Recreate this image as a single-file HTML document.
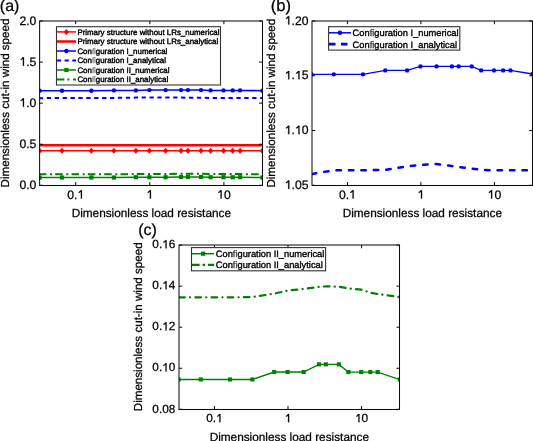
<!DOCTYPE html>
<html><head><meta charset="utf-8"><title>Dimensionless cut-in wind speed</title>
<style>html,body{margin:0;padding:0;background:#fff;width:533px;height:441px;overflow:hidden}svg{display:block}</style>
</head><body>
<svg width="533" height="441" viewBox="0 0 533 441" style="will-change:transform">
<style>text{font-family:"Liberation Sans", sans-serif;fill:#000;stroke:#000;stroke-width:0.25px;text-rendering:geometricPrecision}.tk{font-size:12.2px}.lab{font-size:11.8px}.ylab{font-size:11.6px}.pl{font-size:16px}.lg1{font-size:7.9px;stroke-width:0.4px}.lg2{font-size:9.3px;stroke-width:0.35px}</style>

<defs>
<clipPath id="ca"><rect x="39.60" y="21.00" width="222.80" height="164.30"/></clipPath>
<clipPath id="cb"><rect x="312.00" y="21.00" width="220.40" height="164.30"/></clipPath>
<clipPath id="cc"><rect x="179.00" y="245.10" width="220.70" height="164.20"/></clipPath>
<filter id="soft" x="0" y="0" width="1" height="1"><feGaussianBlur stdDeviation="0.3"/></filter>
</defs>
<g filter="url(#soft)">
<rect width="533" height="441" fill="#fff"/>
<g clip-path="url(#ca)">
<polyline points="39.61,145.29 61.99,145.29 91.41,145.29 113.90,145.29 135.90,145.29 149.40,145.29 165.60,145.29 181.00,145.29 187.89,145.29 201.00,145.29 210.60,145.29 223.50,145.29 232.70,145.29 240.10,145.29 262.36,145.29" fill="none" stroke="#f00" stroke-width="2.5"/>
<polyline points="39.61,150.80 61.99,150.80 91.41,150.80 113.90,150.80 135.90,150.80 149.40,150.80 165.60,150.80 181.00,150.80 187.89,150.80 201.00,150.80 210.60,150.80 223.50,150.80 232.70,150.80 240.10,150.80 262.36,150.80" fill="none" stroke="#f00" stroke-width="1.4"/>
<path d="M39.61 147.80L42.41 150.80L39.61 153.80L36.81 150.80Z" fill="#f00"/>
<path d="M61.99 147.80L64.79 150.80L61.99 153.80L59.19 150.80Z" fill="#f00"/>
<path d="M91.41 147.80L94.21 150.80L91.41 153.80L88.61 150.80Z" fill="#f00"/>
<path d="M113.90 147.80L116.70 150.80L113.90 153.80L111.10 150.80Z" fill="#f00"/>
<path d="M135.90 147.80L138.70 150.80L135.90 153.80L133.10 150.80Z" fill="#f00"/>
<path d="M149.40 147.80L152.20 150.80L149.40 153.80L146.60 150.80Z" fill="#f00"/>
<path d="M165.60 147.80L168.40 150.80L165.60 153.80L162.80 150.80Z" fill="#f00"/>
<path d="M181.00 147.80L183.80 150.80L181.00 153.80L178.20 150.80Z" fill="#f00"/>
<path d="M187.89 147.80L190.69 150.80L187.89 153.80L185.09 150.80Z" fill="#f00"/>
<path d="M201.00 147.80L203.80 150.80L201.00 153.80L198.20 150.80Z" fill="#f00"/>
<path d="M210.60 147.80L213.40 150.80L210.60 153.80L207.80 150.80Z" fill="#f00"/>
<path d="M223.50 147.80L226.30 150.80L223.50 153.80L220.70 150.80Z" fill="#f00"/>
<path d="M232.70 147.80L235.50 150.80L232.70 153.80L229.90 150.80Z" fill="#f00"/>
<path d="M240.10 147.80L242.90 150.80L240.10 153.80L237.30 150.80Z" fill="#f00"/>
<path d="M262.36 147.80L265.16 150.80L262.36 153.80L259.56 150.80Z" fill="#f00"/>
<polyline points="39.61,90.72 61.99,90.72 91.41,90.72 113.90,90.42 135.90,90.42 149.40,90.12 165.60,90.12 181.00,90.12 187.89,90.12 201.00,90.12 210.60,90.42 223.50,90.42 232.70,90.42 240.10,90.42 262.36,90.69" fill="none" stroke="#00f" stroke-width="1.5"/>
<circle cx="39.61" cy="90.72" r="2.20" fill="#00f"/>
<circle cx="61.99" cy="90.72" r="2.20" fill="#00f"/>
<circle cx="91.41" cy="90.72" r="2.20" fill="#00f"/>
<circle cx="113.90" cy="90.42" r="2.20" fill="#00f"/>
<circle cx="135.90" cy="90.42" r="2.20" fill="#00f"/>
<circle cx="149.40" cy="90.12" r="2.20" fill="#00f"/>
<circle cx="165.60" cy="90.12" r="2.20" fill="#00f"/>
<circle cx="181.00" cy="90.12" r="2.20" fill="#00f"/>
<circle cx="187.89" cy="90.12" r="2.20" fill="#00f"/>
<circle cx="201.00" cy="90.12" r="2.20" fill="#00f"/>
<circle cx="210.60" cy="90.42" r="2.20" fill="#00f"/>
<circle cx="223.50" cy="90.42" r="2.20" fill="#00f"/>
<circle cx="232.70" cy="90.42" r="2.20" fill="#00f"/>
<circle cx="240.10" cy="90.42" r="2.20" fill="#00f"/>
<circle cx="262.36" cy="90.69" r="2.20" fill="#00f"/>
<polyline points="39.61,98.19 61.99,97.92 91.41,97.92 113.90,97.89 135.90,97.62 149.40,97.52 165.60,97.45 181.00,97.60 187.89,97.67 201.00,97.80 210.60,97.89 223.50,97.92 232.70,97.92 240.10,97.92 262.36,97.92" fill="none" stroke="#00f" stroke-width="2" stroke-dasharray="4.3 3.6" stroke-dashoffset="0.7"/>
<polyline points="39.61,177.53 61.99,177.53 91.41,177.53 113.90,177.53 135.90,177.24 149.40,177.24 165.60,177.24 181.00,176.93 187.89,176.93 201.00,176.93 210.60,177.24 223.50,177.24 232.70,177.24 240.10,177.24 262.36,177.54" fill="none" stroke="#008000" stroke-width="1.5"/>
<rect x="37.51" y="175.43" width="4.20" height="4.20" fill="#008000"/>
<rect x="59.89" y="175.43" width="4.20" height="4.20" fill="#008000"/>
<rect x="89.31" y="175.43" width="4.20" height="4.20" fill="#008000"/>
<rect x="111.80" y="175.43" width="4.20" height="4.20" fill="#008000"/>
<rect x="133.80" y="175.14" width="4.20" height="4.20" fill="#008000"/>
<rect x="147.30" y="175.14" width="4.20" height="4.20" fill="#008000"/>
<rect x="163.50" y="175.14" width="4.20" height="4.20" fill="#008000"/>
<rect x="178.90" y="174.83" width="4.20" height="4.20" fill="#008000"/>
<rect x="185.79" y="174.83" width="4.20" height="4.20" fill="#008000"/>
<rect x="198.90" y="174.83" width="4.20" height="4.20" fill="#008000"/>
<rect x="208.50" y="175.14" width="4.20" height="4.20" fill="#008000"/>
<rect x="221.40" y="175.14" width="4.20" height="4.20" fill="#008000"/>
<rect x="230.60" y="175.14" width="4.20" height="4.20" fill="#008000"/>
<rect x="238.00" y="175.14" width="4.20" height="4.20" fill="#008000"/>
<rect x="260.26" y="175.44" width="4.20" height="4.20" fill="#008000"/>
<polyline points="39.61,174.25 61.99,174.25 91.41,174.25 113.90,174.24 135.90,174.10 149.40,173.98 165.60,173.91 181.00,173.83 187.89,173.81 201.00,173.82 210.60,173.89 223.50,173.94 232.70,174.06 240.10,174.12 262.36,174.24" fill="none" stroke="#008000" stroke-width="2" stroke-dasharray="7.5 3.63 2 3.2" stroke-dashoffset="0.73"/>
</g>
<line x1="75.70" y1="185.30" x2="75.70" y2="182.10" stroke="#000" stroke-width="1.00"/>
<line x1="75.70" y1="21.00" x2="75.70" y2="24.20" stroke="#000" stroke-width="1.00"/>
<text x="67.22" y="198.60" class="tk" style="font-size:12.20px">0</text>
<text x="74.00" y="198.60" class="tk" style="font-size:12.20px">.</text>
<path d="M81.94 198.60L80.87 198.60L80.87 191.77Q80.48 192.14 79.90 192.46Q79.36 192.73 78.71 192.88L78.71 191.93Q79.42 191.57 79.96 191.06Q80.48 190.53 80.65 190.21L81.94 190.21Z" fill="#000" stroke="#000" stroke-width="0.25"/>
<line x1="149.80" y1="185.30" x2="149.80" y2="182.10" stroke="#000" stroke-width="1.00"/>
<line x1="149.80" y1="21.00" x2="149.80" y2="24.20" stroke="#000" stroke-width="1.00"/>
<path d="M150.95 198.60L149.88 198.60L149.88 191.77Q149.49 192.14 148.91 192.46Q148.37 192.73 147.72 192.88L147.72 191.93Q148.43 191.57 148.97 191.06Q149.49 190.53 149.67 190.21L150.95 190.21Z" fill="#000" stroke="#000" stroke-width="0.25"/>
<line x1="223.90" y1="185.30" x2="223.90" y2="182.10" stroke="#000" stroke-width="1.00"/>
<line x1="223.90" y1="21.00" x2="223.90" y2="24.20" stroke="#000" stroke-width="1.00"/>
<path d="M221.66 198.60L220.59 198.60L220.59 191.77Q220.20 192.14 219.62 192.46Q219.08 192.73 218.43 192.88L218.43 191.93Q219.14 191.57 219.68 191.06Q220.20 190.53 220.38 190.21L221.66 190.21Z" fill="#000" stroke="#000" stroke-width="0.25"/>
<text x="223.90" y="198.60" class="tk" style="font-size:12.20px">0</text>
<line x1="39.60" y1="185.30" x2="42.80" y2="185.30" stroke="#000" stroke-width="1.00"/>
<line x1="262.40" y1="185.30" x2="259.20" y2="185.30" stroke="#000" stroke-width="1.00"/>
<text x="19.44" y="188.90" class="tk" style="font-size:12.20px">0</text>
<text x="26.23" y="188.90" class="tk" style="font-size:12.20px">.</text>
<text x="29.62" y="188.90" class="tk" style="font-size:12.20px">0</text>
<line x1="39.60" y1="144.23" x2="42.80" y2="144.23" stroke="#000" stroke-width="1.00"/>
<line x1="262.40" y1="144.23" x2="259.20" y2="144.23" stroke="#000" stroke-width="1.00"/>
<text x="19.44" y="147.83" class="tk" style="font-size:12.20px">0</text>
<text x="26.23" y="147.83" class="tk" style="font-size:12.20px">.</text>
<text x="29.62" y="147.83" class="tk" style="font-size:12.20px">5</text>
<line x1="39.60" y1="103.15" x2="42.80" y2="103.15" stroke="#000" stroke-width="1.00"/>
<line x1="262.40" y1="103.15" x2="259.20" y2="103.15" stroke="#000" stroke-width="1.00"/>
<path d="M23.99 106.75L22.91 106.75L22.91 99.92Q22.53 100.29 21.94 100.61Q21.41 100.88 20.75 101.03L20.75 100.08Q21.47 99.72 22.00 99.21Q22.52 98.68 22.70 98.36L23.99 98.36Z" fill="#000" stroke="#000" stroke-width="0.25"/>
<text x="26.23" y="106.75" class="tk" style="font-size:12.20px">.</text>
<text x="29.62" y="106.75" class="tk" style="font-size:12.20px">0</text>
<line x1="39.60" y1="62.08" x2="42.80" y2="62.08" stroke="#000" stroke-width="1.00"/>
<line x1="262.40" y1="62.08" x2="259.20" y2="62.08" stroke="#000" stroke-width="1.00"/>
<path d="M23.99 65.67L22.91 65.67L22.91 58.84Q22.53 59.21 21.94 59.54Q21.41 59.81 20.75 59.96L20.75 59.00Q21.47 58.65 22.00 58.13Q22.52 57.60 22.70 57.28L23.99 57.28Z" fill="#000" stroke="#000" stroke-width="0.25"/>
<text x="26.23" y="65.67" class="tk" style="font-size:12.20px">.</text>
<text x="29.62" y="65.67" class="tk" style="font-size:12.20px">5</text>
<line x1="39.60" y1="21.00" x2="42.80" y2="21.00" stroke="#000" stroke-width="1.00"/>
<line x1="262.40" y1="21.00" x2="259.20" y2="21.00" stroke="#000" stroke-width="1.00"/>
<text x="19.44" y="24.60" class="tk" style="font-size:12.20px">2</text>
<text x="26.23" y="24.60" class="tk" style="font-size:12.20px">.</text>
<text x="29.62" y="24.60" class="tk" style="font-size:12.20px">0</text>
<rect x="39.60" y="21.00" width="222.90" height="164.50" fill="none" stroke="#111" stroke-width="1.05"/>
<rect x="56.5" y="26.7" width="164.0" height="58.3" fill="#fff" stroke="#333" stroke-width="1.1"/>
<line x1="56.9" y1="31.9" x2="76.0" y2="31.9" stroke="#f00" stroke-width="1.5"/>
<path d="M66.40 28.90L69.10 31.90L66.40 34.90L63.70 31.90Z" fill="#f00"/>
<line x1="56.9" y1="41.5" x2="76.0" y2="41.5" stroke="#f00" stroke-width="2.5"/>
<line x1="56.9" y1="51.0" x2="76.0" y2="51.0" stroke="#00f" stroke-width="1.5"/>
<circle cx="66.40" cy="51.00" r="2.2" fill="#00f"/>
<line x1="56.9" y1="60.5" x2="76.0" y2="60.5" stroke="#00f" stroke-width="2" stroke-dasharray="4.2 3.5"/>
<line x1="56.9" y1="70.0" x2="76.0" y2="70.0" stroke="#008000" stroke-width="1.5"/>
<rect x="64.30" y="67.90" width="4.2" height="4.2" fill="#008000"/>
<line x1="56.9" y1="79.6" x2="76.0" y2="79.6" stroke="#008000" stroke-width="2" stroke-dasharray="7.5 3 2 3.7"/>
<text x="77.4" y="34.65" class="lg1">Primary structure without LRs_numerical</text>
<text x="77.4" y="44.25" class="lg1">Primary structure without LRs_analytical</text>
<text x="77.4" y="53.75" class="lg1">Con<tspan fill="#888" stroke="#888">fi</tspan>guration I_numerical</text>
<text x="77.4" y="63.25" class="lg1">Con<tspan fill="#888" stroke="#888">fi</tspan>guration I_analytical</text>
<text x="77.4" y="72.75" class="lg1">Con<tspan fill="#888" stroke="#888">fi</tspan>guration II_numerical</text>
<text x="77.4" y="82.35" class="lg1">Con<tspan fill="#888" stroke="#888">fi</tspan>guration II_analytical</text>
<text x="-0.2" y="10.8" class="pl">(a)</text>
<text x="151.3" y="216.8" text-anchor="middle" class="lab">Dimensionless load resistance</text>
<text transform="translate(9.1,103) rotate(-90)" text-anchor="middle" class="ylab">Dimensionless cut-in wind speed</text>
<g clip-path="url(#cb)">
<polyline points="311.61,74.35 333.80,74.35 362.98,74.35 385.29,70.39 407.11,70.39 420.50,66.38 436.57,66.38 451.84,66.38 458.68,66.38 471.69,66.38 481.21,70.39 494.00,70.39 503.13,70.39 510.47,70.39 532.55,74.00" fill="none" stroke="#00f" stroke-width="1.35"/>
<circle cx="311.61" cy="74.35" r="2.20" fill="#00f"/>
<circle cx="333.80" cy="74.35" r="2.20" fill="#00f"/>
<circle cx="362.98" cy="74.35" r="2.20" fill="#00f"/>
<circle cx="385.29" cy="70.39" r="2.20" fill="#00f"/>
<circle cx="407.11" cy="70.39" r="2.20" fill="#00f"/>
<circle cx="420.50" cy="66.38" r="2.20" fill="#00f"/>
<circle cx="436.57" cy="66.38" r="2.20" fill="#00f"/>
<circle cx="451.84" cy="66.38" r="2.20" fill="#00f"/>
<circle cx="458.68" cy="66.38" r="2.20" fill="#00f"/>
<circle cx="471.69" cy="66.38" r="2.20" fill="#00f"/>
<circle cx="481.21" cy="70.39" r="2.20" fill="#00f"/>
<circle cx="494.00" cy="70.39" r="2.20" fill="#00f"/>
<circle cx="503.13" cy="70.39" r="2.20" fill="#00f"/>
<circle cx="510.47" cy="70.39" r="2.20" fill="#00f"/>
<circle cx="532.55" cy="74.00" r="2.20" fill="#00f"/>
<polyline points="311.61,173.98 333.80,170.27 362.98,170.27 385.29,169.87 407.11,166.37 420.50,164.96 436.57,164.06 451.84,166.06 458.68,166.97 471.69,168.67 481.21,169.87 494.00,170.27 503.13,170.27 510.47,170.27 532.55,170.27" fill="none" stroke="#00f" stroke-width="2.5" stroke-dasharray="4.45 8.0" stroke-dashoffset="-0.25" stroke-linecap="round"/>
</g>
<line x1="347.40" y1="185.30" x2="347.40" y2="182.10" stroke="#000" stroke-width="1.00"/>
<line x1="347.40" y1="21.00" x2="347.40" y2="24.20" stroke="#000" stroke-width="1.00"/>
<text x="338.92" y="198.60" class="tk" style="font-size:12.20px">0</text>
<text x="345.70" y="198.60" class="tk" style="font-size:12.20px">.</text>
<path d="M353.64 198.60L352.57 198.60L352.57 191.77Q352.18 192.14 351.60 192.46Q351.06 192.73 350.41 192.88L350.41 191.93Q351.12 191.57 351.66 191.06Q352.18 190.53 352.35 190.21L353.64 190.21Z" fill="#000" stroke="#000" stroke-width="0.25"/>
<line x1="420.90" y1="185.30" x2="420.90" y2="182.10" stroke="#000" stroke-width="1.00"/>
<line x1="420.90" y1="21.00" x2="420.90" y2="24.20" stroke="#000" stroke-width="1.00"/>
<path d="M422.05 198.60L420.98 198.60L420.98 191.77Q420.59 192.14 420.01 192.46Q419.47 192.73 418.82 192.88L418.82 191.93Q419.53 191.57 420.07 191.06Q420.59 190.53 420.77 190.21L422.05 190.21Z" fill="#000" stroke="#000" stroke-width="0.25"/>
<line x1="494.40" y1="185.30" x2="494.40" y2="182.10" stroke="#000" stroke-width="1.00"/>
<line x1="494.40" y1="21.00" x2="494.40" y2="24.20" stroke="#000" stroke-width="1.00"/>
<path d="M492.16 198.60L491.09 198.60L491.09 191.77Q490.70 192.14 490.12 192.46Q489.58 192.73 488.93 192.88L488.93 191.93Q489.64 191.57 490.18 191.06Q490.70 190.53 490.88 190.21L492.16 190.21Z" fill="#000" stroke="#000" stroke-width="0.25"/>
<text x="494.40" y="198.60" class="tk" style="font-size:12.20px">0</text>
<line x1="312.00" y1="185.30" x2="315.20" y2="185.30" stroke="#000" stroke-width="1.00"/>
<line x1="532.40" y1="185.30" x2="529.20" y2="185.30" stroke="#000" stroke-width="1.00"/>
<path d="M289.30 188.90L288.23 188.90L288.23 182.07Q287.84 182.44 287.26 182.76Q286.72 183.03 286.07 183.18L286.07 182.23Q286.78 181.87 287.32 181.36Q287.84 180.83 288.02 180.51L289.30 180.51Z" fill="#000" stroke="#000" stroke-width="0.25"/>
<text x="291.54" y="188.90" class="tk" style="font-size:12.20px">.</text>
<text x="294.93" y="188.90" class="tk" style="font-size:12.20px">0</text>
<text x="301.72" y="188.90" class="tk" style="font-size:12.20px">5</text>
<line x1="312.00" y1="130.53" x2="315.20" y2="130.53" stroke="#000" stroke-width="1.00"/>
<line x1="532.40" y1="130.53" x2="529.20" y2="130.53" stroke="#000" stroke-width="1.00"/>
<path d="M289.30 134.13L288.23 134.13L288.23 127.30Q287.84 127.67 287.26 128.00Q286.72 128.27 286.07 128.41L286.07 127.46Q286.78 127.10 287.32 126.59Q287.84 126.06 288.02 125.74L289.30 125.74Z" fill="#000" stroke="#000" stroke-width="0.25"/>
<text x="291.54" y="134.13" class="tk" style="font-size:12.20px">.</text>
<path d="M299.48 134.13L298.41 134.13L298.41 127.30Q298.02 127.67 297.44 128.00Q296.90 128.27 296.24 128.41L296.24 127.46Q296.96 127.10 297.50 126.59Q298.01 126.06 298.19 125.74L299.48 125.74Z" fill="#000" stroke="#000" stroke-width="0.25"/>
<text x="301.72" y="134.13" class="tk" style="font-size:12.20px">0</text>
<line x1="312.00" y1="75.77" x2="315.20" y2="75.77" stroke="#000" stroke-width="1.00"/>
<line x1="532.40" y1="75.77" x2="529.20" y2="75.77" stroke="#000" stroke-width="1.00"/>
<path d="M289.30 79.37L288.23 79.37L288.23 72.53Q287.84 72.90 287.26 73.23Q286.72 73.50 286.07 73.65L286.07 72.69Q286.78 72.34 287.32 71.83Q287.84 71.29 288.02 70.97L289.30 70.97Z" fill="#000" stroke="#000" stroke-width="0.25"/>
<text x="291.54" y="79.37" class="tk" style="font-size:12.20px">.</text>
<path d="M299.48 79.37L298.41 79.37L298.41 72.53Q298.02 72.90 297.44 73.23Q296.90 73.50 296.24 73.65L296.24 72.69Q296.96 72.34 297.50 71.83Q298.01 71.29 298.19 70.97L299.48 70.97Z" fill="#000" stroke="#000" stroke-width="0.25"/>
<text x="301.72" y="79.37" class="tk" style="font-size:12.20px">5</text>
<line x1="312.00" y1="21.00" x2="315.20" y2="21.00" stroke="#000" stroke-width="1.00"/>
<line x1="532.40" y1="21.00" x2="529.20" y2="21.00" stroke="#000" stroke-width="1.00"/>
<path d="M289.30 24.60L288.23 24.60L288.23 17.77Q287.84 18.14 287.26 18.46Q286.72 18.73 286.07 18.88L286.07 17.93Q286.78 17.57 287.32 17.06Q287.84 16.53 288.02 16.21L289.30 16.21Z" fill="#000" stroke="#000" stroke-width="0.25"/>
<text x="291.54" y="24.60" class="tk" style="font-size:12.20px">.</text>
<text x="294.93" y="24.60" class="tk" style="font-size:12.20px">2</text>
<text x="301.72" y="24.60" class="tk" style="font-size:12.20px">0</text>
<rect x="312.00" y="21.00" width="220.50" height="164.50" fill="none" stroke="#111" stroke-width="1.05"/>
<rect x="328.6" y="26.7" width="131.2" height="23.4" fill="#fff" stroke="#333" stroke-width="1.1"/>
<line x1="329" y1="32.8" x2="351" y2="32.8" stroke="#00f" stroke-width="1.5"/>
<circle cx="339.9" cy="32.8" r="2.2" fill="#00f"/>
<line x1="329" y1="44.1" x2="351" y2="44.1" stroke="#00f" stroke-width="2.6" stroke-dasharray="6.5 5.5"/>
<text x="352.6" y="36.1" class="lg2">Con<tspan fill="#444" stroke="#444">fi</tspan>guration I_numerical</text>
<text x="352.6" y="47.5" class="lg2">Con<tspan fill="#444" stroke="#444">fi</tspan>guration I_analytical</text>
<text x="270.8" y="11" class="pl" style="font-size:16.6px">(b)</text>
<text x="422.3" y="216.8" text-anchor="middle" class="lab">Dimensionless load resistance</text>
<text transform="translate(274.6,103.2) rotate(-90)" text-anchor="middle" class="ylab">Dimensionless cut-in wind speed</text>
<g clip-path="url(#cc)">
<polyline points="178.56,379.46 200.78,379.46 230.00,379.46 252.34,379.46 274.19,372.00 287.60,372.00 303.69,372.00 318.99,364.35 325.83,364.35 338.86,364.35 348.39,372.05 361.20,372.05 370.34,372.05 377.69,372.05 399.80,379.56" fill="none" stroke="#008000" stroke-width="1.35"/>
<rect x="176.51" y="377.41" width="4.10" height="4.10" fill="#008000"/>
<rect x="198.73" y="377.41" width="4.10" height="4.10" fill="#008000"/>
<rect x="227.95" y="377.41" width="4.10" height="4.10" fill="#008000"/>
<rect x="250.29" y="377.41" width="4.10" height="4.10" fill="#008000"/>
<rect x="272.14" y="369.95" width="4.10" height="4.10" fill="#008000"/>
<rect x="285.55" y="369.95" width="4.10" height="4.10" fill="#008000"/>
<rect x="301.64" y="369.95" width="4.10" height="4.10" fill="#008000"/>
<rect x="316.94" y="362.30" width="4.10" height="4.10" fill="#008000"/>
<rect x="323.78" y="362.30" width="4.10" height="4.10" fill="#008000"/>
<rect x="336.81" y="362.30" width="4.10" height="4.10" fill="#008000"/>
<rect x="346.34" y="370.00" width="4.10" height="4.10" fill="#008000"/>
<rect x="359.15" y="370.00" width="4.10" height="4.10" fill="#008000"/>
<rect x="368.29" y="370.00" width="4.10" height="4.10" fill="#008000"/>
<rect x="375.64" y="370.00" width="4.10" height="4.10" fill="#008000"/>
<rect x="397.75" y="377.51" width="4.10" height="4.10" fill="#008000"/>
<polyline points="178.56,297.36 200.78,297.36 230.00,297.36 252.34,297.06 274.19,293.66 287.60,290.66 303.69,288.85 318.99,286.85 325.83,286.35 338.86,286.75 348.39,288.45 361.20,289.65 370.34,292.66 377.69,294.06 399.80,297.06" fill="none" stroke="#008000" stroke-width="2.2" stroke-dasharray="5.65 5.16 0.2 5.16" stroke-dashoffset="-0.6" stroke-linecap="round"/>
</g>
<line x1="214.40" y1="409.30" x2="214.40" y2="406.10" stroke="#000" stroke-width="1.00"/>
<line x1="214.40" y1="245.10" x2="214.40" y2="248.30" stroke="#000" stroke-width="1.00"/>
<text x="206.20" y="422.20" class="tk" style="font-size:11.80px">0</text>
<text x="212.76" y="422.20" class="tk" style="font-size:11.80px">.</text>
<path d="M220.44 422.20L219.40 422.20L219.40 415.59Q219.02 415.95 218.46 416.27Q217.94 416.52 217.31 416.67L217.31 415.75Q218.00 415.40 218.52 414.91Q219.02 414.39 219.19 414.08L220.44 414.08Z" fill="#000" stroke="#000" stroke-width="0.25"/>
<line x1="288.00" y1="409.30" x2="288.00" y2="406.10" stroke="#000" stroke-width="1.00"/>
<line x1="288.00" y1="245.10" x2="288.00" y2="248.30" stroke="#000" stroke-width="1.00"/>
<path d="M289.12 422.20L288.08 422.20L288.08 415.59Q287.70 415.95 287.14 416.27Q286.62 416.52 285.99 416.67L285.99 415.75Q286.68 415.40 287.20 414.91Q287.70 414.39 287.87 414.08L289.12 414.08Z" fill="#000" stroke="#000" stroke-width="0.25"/>
<line x1="361.60" y1="409.30" x2="361.60" y2="406.10" stroke="#000" stroke-width="1.00"/>
<line x1="361.60" y1="245.10" x2="361.60" y2="248.30" stroke="#000" stroke-width="1.00"/>
<path d="M359.44 422.20L358.40 422.20L358.40 415.59Q358.02 415.95 357.46 416.27Q356.94 416.52 356.31 416.67L356.31 415.75Q357.00 415.40 357.52 414.91Q358.02 414.39 358.19 414.08L359.44 414.08Z" fill="#000" stroke="#000" stroke-width="0.25"/>
<text x="361.60" y="422.20" class="tk" style="font-size:11.80px">0</text>
<line x1="179.00" y1="409.30" x2="182.20" y2="409.30" stroke="#000" stroke-width="1.00"/>
<line x1="399.70" y1="409.30" x2="396.50" y2="409.30" stroke="#000" stroke-width="1.00"/>
<text x="152.34" y="412.50" class="tk" style="font-size:11.80px">0</text>
<text x="158.90" y="412.50" class="tk" style="font-size:11.80px">.</text>
<text x="162.18" y="412.50" class="tk" style="font-size:11.80px">0</text>
<text x="168.74" y="412.50" class="tk" style="font-size:11.80px">8</text>
<line x1="179.00" y1="368.25" x2="182.20" y2="368.25" stroke="#000" stroke-width="1.00"/>
<line x1="399.70" y1="368.25" x2="396.50" y2="368.25" stroke="#000" stroke-width="1.00"/>
<text x="152.34" y="371.45" class="tk" style="font-size:11.80px">0</text>
<text x="158.90" y="371.45" class="tk" style="font-size:11.80px">.</text>
<path d="M166.57 371.45L165.54 371.45L165.54 364.84Q165.16 365.20 164.60 365.52Q164.08 365.77 163.45 365.92L163.45 365.00Q164.14 364.65 164.66 364.16Q165.16 363.64 165.33 363.33L166.57 363.33Z" fill="#000" stroke="#000" stroke-width="0.25"/>
<text x="168.74" y="371.45" class="tk" style="font-size:11.80px">0</text>
<line x1="179.00" y1="327.20" x2="182.20" y2="327.20" stroke="#000" stroke-width="1.00"/>
<line x1="399.70" y1="327.20" x2="396.50" y2="327.20" stroke="#000" stroke-width="1.00"/>
<text x="152.34" y="330.40" class="tk" style="font-size:11.80px">0</text>
<text x="158.90" y="330.40" class="tk" style="font-size:11.80px">.</text>
<path d="M166.57 330.40L165.54 330.40L165.54 323.79Q165.16 324.15 164.60 324.47Q164.08 324.72 163.45 324.87L163.45 323.95Q164.14 323.60 164.66 323.11Q165.16 322.59 165.33 322.28L166.57 322.28Z" fill="#000" stroke="#000" stroke-width="0.25"/>
<text x="168.74" y="330.40" class="tk" style="font-size:11.80px">2</text>
<line x1="179.00" y1="286.15" x2="182.20" y2="286.15" stroke="#000" stroke-width="1.00"/>
<line x1="399.70" y1="286.15" x2="396.50" y2="286.15" stroke="#000" stroke-width="1.00"/>
<text x="152.34" y="289.35" class="tk" style="font-size:11.80px">0</text>
<text x="158.90" y="289.35" class="tk" style="font-size:11.80px">.</text>
<path d="M166.57 289.35L165.54 289.35L165.54 282.74Q165.16 283.10 164.60 283.42Q164.08 283.67 163.45 283.82L163.45 282.90Q164.14 282.55 164.66 282.06Q165.16 281.54 165.33 281.23L166.57 281.23Z" fill="#000" stroke="#000" stroke-width="0.25"/>
<text x="168.74" y="289.35" class="tk" style="font-size:11.80px">4</text>
<line x1="179.00" y1="245.10" x2="182.20" y2="245.10" stroke="#000" stroke-width="1.00"/>
<line x1="399.70" y1="245.10" x2="396.50" y2="245.10" stroke="#000" stroke-width="1.00"/>
<text x="152.34" y="248.30" class="tk" style="font-size:11.80px">0</text>
<text x="158.90" y="248.30" class="tk" style="font-size:11.80px">.</text>
<path d="M166.57 248.30L165.54 248.30L165.54 241.69Q165.16 242.05 164.60 242.37Q164.08 242.62 163.45 242.77L163.45 241.85Q164.14 241.50 164.66 241.01Q165.16 240.49 165.33 240.18L166.57 240.18Z" fill="#000" stroke="#000" stroke-width="0.25"/>
<text x="168.74" y="248.30" class="tk" style="font-size:11.80px">6</text>
<rect x="179.00" y="245.00" width="220.50" height="164.50" fill="none" stroke="#111" stroke-width="1.05"/>
<rect x="191.5" y="247.6" width="134.1" height="23.2" fill="#fff" stroke="#333" stroke-width="1.1"/>
<line x1="192" y1="253.7" x2="214" y2="253.7" stroke="#008000" stroke-width="1.5"/>
<rect x="201.0" y="251.6" width="4.2" height="4.2" fill="#008000"/>
<line x1="192" y1="264.8" x2="214.2" y2="264.8" stroke="#008000" stroke-width="2.2" stroke-dasharray="7.6 3 2.4 3"/>
<text x="215.8" y="257.0" class="lg2">Con<tspan fill="#444" stroke="#444">fi</tspan>guration II_numerical</text>
<text x="215.8" y="268.2" class="lg2">Con<tspan fill="#444" stroke="#444">fi</tspan>guration II_analytical</text>
<text x="138.2" y="234.5" class="pl" style="font-size:16px">(c)</text>
<text x="289.3" y="441.0" text-anchor="middle" class="lab">Dimensionless load resistance</text>
<text transform="translate(141.8,326.8) rotate(-90)" text-anchor="middle" class="ylab">Dimensionless cut-in wind speed</text>
</g>
</svg>
</body></html>
